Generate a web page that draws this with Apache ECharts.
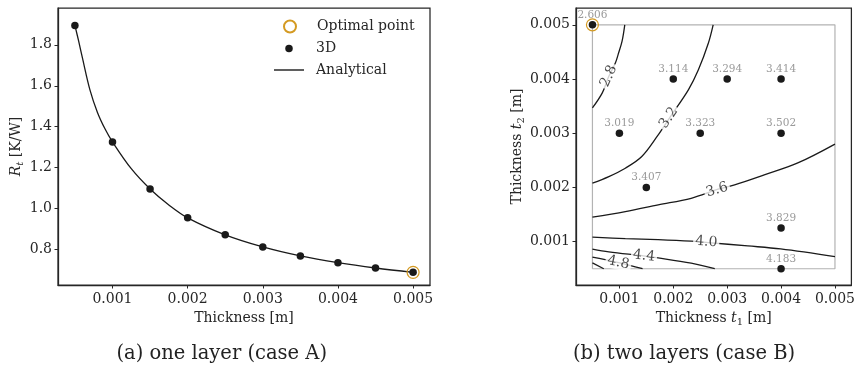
<!DOCTYPE html>
<html><head><meta charset="utf-8">
<script src="https://cdn.jsdelivr.net/npm/echarts@6/dist/echarts.min.js"></script>
<style>html,body{margin:0;padding:0;background:#fff}#c{width:858px;height:369px}</style>
</head><body><div id="c"></div>
<script>
// ---- Panel (a): one layer ----
const tOne = [0.0005,0.001,0.0015,0.002,0.0025,0.003,0.0035,0.004,0.0045,0.005];
const r3D = [1.895,1.326,1.096,0.955,0.872,0.813,0.769,0.736,0.710,0.689];
const tAnalytical = [0.0005,0.00055,0.0006,0.0007,0.0008,0.0009,0.001,0.00125,0.0015,0.00175,0.002,0.0025,0.003,0.0035,0.004,0.0045,0.005];
const rAnalytical = [1.895,1.818,1.736,1.58,1.47,1.39,1.326,1.195,1.096,1.018,0.955,0.872,0.813,0.769,0.736,0.710,0.689];
const optimalOne = [0.005, 0.689];
const xTicksA = [0.001,0.002,0.003,0.004,0.005];
const yTicksA = [0.8,1.0,1.2,1.4,1.6,1.8];

// ---- Panel (b): two layers ----
const t1Pts = [0.0005,0.002,0.003,0.004,0.001,0.0025,0.004,0.0015,0.004,0.004];
const t2Pts = [0.005,0.004,0.004,0.004,0.003,0.003,0.003,0.002,0.00125,0.0005];
const rPts  = [2.606,3.114,3.294,3.414,3.019,3.323,3.502,3.407,3.829,4.183];
const optimalTwo = [0.0005, 0.005];
const rectT1 = [0.0005,0.005,0.005,0.0005,0.0005];
const rectT2 = [0.0005,0.0005,0.005,0.005,0.0005];
const xTicksB = [0.001,0.002,0.003,0.004,0.005];
const yTicksB = [0.001,0.002,0.003,0.004,0.005];

const c28t1 = [0.00110,0.00105,0.000976,0.000927,0.0008,0.000683,0.0005];
const c28t2 = [0.005,0.0047,0.00445,0.0043,0.00404,0.003745,0.003468];
const c32t1 = [0.00274,0.00265,0.002466,0.00228,0.001947,0.0017,0.001416,0.00111,0.000804,0.0005];
const c32t2 = [0.005,0.00466,0.00417,0.0038,0.003307,0.00294,0.00257,0.002355,0.0022,0.002078];
const c36t1 = [0.0005,0.00111,0.00172,0.002332,0.002832,0.003138,0.003688,0.0043,0.005];
const c36t2 = [0.001451,0.001554,0.001678,0.0018,0.001967,0.002047,0.002232,0.002447,0.0028];
const c40t1 = [0.0005,0.00111,0.00172,0.002332,0.00265,0.003382,0.003992,0.005];
const c40t2 = [0.001082,0.001056,0.001037,0.001008,0.000982,0.000921,0.000866,0.000724];
const c44t1 = [0.0005,0.000804,0.001445,0.00172,0.002332,0.00277];
const c44t2 = [0.00086,0.00081,0.000737,0.0007,0.000602,0.0005];
const c48t1 = [0.0005,0.000987,0.00143];
const c48t2 = [0.000715,0.000613,0.0005];
const c52t1 = [0.0005,0.00071];
const c52t2 = [0.000607,0.0005];

const contourLevels = ['2.8','3.2','3.6','4.0','4.4','4.8'];
const labelT1 = [0.000804,0.001916,0.002814,0.002612,0.001458,0.000982];
const labelT2 = [0.004053,0.003284,0.001955,0.000995,0.000737,0.000613];
const labelAngle = [66,56,17,-4,-7,-12];

// ---- styles ----
const FONT = 'DejaVu Serif';
const TXT = '#262626';
const DOT = '#1a1a1a';
const ORANGE = '#d49a22';
const FS = 14;
const zip = (a,b) => a.map((v,i)=>[v,b[i]]);

function axisCommon(){
  return {
    axisLine:{show:true,onZero:false,lineStyle:{color:TXT,width:1.25}},
    axisTick:{show:true,length:3.5,lineStyle:{color:TXT,width:1}},
    splitLine:{show:false},
    axisLabel:{color:TXT,fontFamily:FONT,fontSize:FS},
    nameTextStyle:{color:TXT,fontFamily:FONT,fontSize:FS}
  };
}
function mk(extra){ const a = axisCommon(); for (const k in extra){ if (typeof extra[k]==='object' && a[k] && !Array.isArray(extra[k])) a[k]=Object.assign({},a[k],extra[k]); else a[k]=extra[k]; } return a; }
function richName(italicSub){
  return {rich:{
    n:{fontFamily:FONT,fontSize:FS,color:TXT},
    i:{fontFamily:FONT,fontSize:FS,fontStyle:'italic',color:TXT},
    s:{fontFamily:FONT,fontSize:10,fontStyle:italicSub?'italic':'normal',color:TXT,verticalAlign:'bottom',padding:[7,0,0,0]}
  }};
}

const contourSeries = [[c28t1,c28t2],[c32t1,c32t2],[c36t1,c36t2],[c40t1,c40t2],[c44t1,c44t2],[c48t1,c48t2],[c52t1,c52t2]].map(p=>({
  type:'line', xAxisIndex:1, yAxisIndex:1, data: zip(p[0],p[1]), showSymbol:false, symbol:'none',
  smooth:0.35, lineStyle:{color:DOT,width:1.3}, z:3, silent:true
}));

function legendText(pad){
  return {color:TXT,fontFamily:FONT,fontSize:FS,rich:{p:{color:TXT,fontFamily:FONT,fontSize:FS,padding:[0,0,0,pad]}}};
}
const legendFmt = name => '{p|' + name + '}';

const option = {
  backgroundColor:'#fff',
  animation:false,
  grid:[
    {left:58, top:8, width:372, height:277, show:true, borderColor:TXT, borderWidth:1.25},
    {left:576, top:8, width:279, height:277, show:true, borderColor:TXT, borderWidth:1.25}
  ],
  legend:[
    {data:['Optimal point'], left:283, top:19.5, padding:0, itemWidth:12, itemHeight:12, formatter:legendFmt, textStyle:legendText(16)},
    {data:['3D'], left:285.25, top:41.5, padding:0, itemWidth:7.5, itemHeight:7.5, formatter:legendFmt, textStyle:legendText(18.25)},
    {data:[{name:'Analytical', icon:'rect'}], left:274, top:63, padding:0, itemWidth:30, itemHeight:1.4, formatter:legendFmt, textStyle:legendText(7)}
  ],
  xAxis:[
    mk({type:'value', gridIndex:0, min:0.000275, max:0.005225, name:'Thickness [m]', nameLocation:'middle', nameGap:25,
      axisTick:{customValues:xTicksA}, axisLabel:{customValues:xTicksA, margin:7, formatter:v=>v.toFixed(3)}}),
    mk({type:'value', gridIndex:1, min:0.000195, max:0.005305, name:'{n|Thickness }{i|t}{s|1}{n| [m]}', nameLocation:'middle', nameGap:25,
      nameTextStyle:richName(false),
      axisTick:{customValues:xTicksB}, axisLabel:{customValues:xTicksB, margin:7, formatter:v=>v.toFixed(3)}})
  ],
  yAxis:[
    mk({type:'value', gridIndex:0, min:0.627, max:1.98, name:'{i|R}{s|t}{n| [K/W]}', nameLocation:'middle', nameGap:33,
      nameTextStyle:richName(true),
      axisTick:{customValues:yTicksA}, axisLabel:{customValues:yTicksA, margin:6, formatter:v=>v.toFixed(1)}}),
    mk({type:'value', gridIndex:1, min:0.0002, max:0.00531, name:'{n|Thickness }{i|t}{s|2}{n| [m]}', nameLocation:'middle', nameGap:44,
      nameTextStyle:richName(false),
      axisTick:{customValues:yTicksB}, axisLabel:{customValues:yTicksB, margin:6, formatter:v=>v.toFixed(3)}})
  ],
  graphic:[
    {type:'text', x:221.7, y:354, style:{text:'(a) one layer (case A)', fill:'#222', font:'19.5px "DejaVu Serif"', textAlign:'center', textVerticalAlign:'middle'}},
    {type:'text', x:684, y:354, style:{text:'(b) two layers (case B)', fill:'#222', font:'19.5px "DejaVu Serif"', textAlign:'center', textVerticalAlign:'middle'}}
  ],
  series:[
    {name:'Analytical', type:'line', xAxisIndex:0, yAxisIndex:0, data:zip(tAnalytical,rAnalytical), symbol:'none', showSymbol:false,
     smooth:0.35, lineStyle:{color:DOT,width:1.3}, itemStyle:{color:DOT}, z:2},
    {name:'3D', type:'scatter', xAxisIndex:0, yAxisIndex:0, data:zip(tOne,r3D), symbol:'circle', symbolSize:7.5, itemStyle:{color:DOT,opacity:1}, z:3},
    {name:'Optimal point', type:'scatter', xAxisIndex:0, yAxisIndex:0, data:[optimalOne], symbol:'circle', symbolSize:12,
     itemStyle:{color:'rgba(0,0,0,0)', borderColor:ORANGE, borderWidth:1.2, opacity:1}, z:4},
    // panel b
    {type:'line', xAxisIndex:1, yAxisIndex:1, data:zip(rectT1,rectT2), symbol:'none', showSymbol:false,
     lineStyle:{color:'#b3b3b3',width:1.2}, z:1, silent:true},
    ...contourSeries,
    {type:'scatter', xAxisIndex:1, yAxisIndex:1, silent:true, z:6,
     data: contourLevels.map((lv,i)=>({value:[labelT1[i],labelT2[i],lv], label:{rotate:labelAngle[i]}})),
     symbolSize:1, itemStyle:{color:'rgba(0,0,0,0)'},
     label:{show:true, position:'inside', formatter:p=>p.value[2], color:DOT, fontFamily:FONT, fontSize:FS,
            backgroundColor:'#fff', padding:[0,2]}},
    {type:'scatter', xAxisIndex:1, yAxisIndex:1, silent:true, z:5,
     data: t1Pts.map((v,i)=>[v,t2Pts[i],rPts[i]]), symbol:'circle', symbolSize:7.5, itemStyle:{color:DOT,opacity:1},
     label:{show:true, position:'top', distance:0.5, formatter:p=>p.value[2].toFixed(3), color:'#9a9a9a', fontFamily:FONT, fontSize:10.5}},
    {type:'scatter', xAxisIndex:1, yAxisIndex:1, data:[optimalTwo], symbol:'circle', symbolSize:12,
     itemStyle:{color:'rgba(0,0,0,0)', borderColor:ORANGE, borderWidth:1.2, opacity:1}, z:7, silent:true}
  ]
};
const chart = echarts.init(document.getElementById('c'), null, {renderer:'canvas'});
chart.setOption(option);
</script></body></html>
